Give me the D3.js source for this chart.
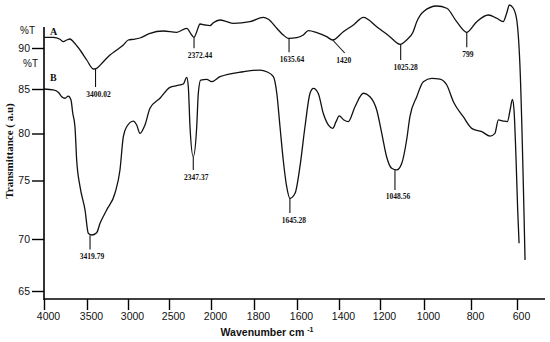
<!DOCTYPE html>
<html><head><meta charset="utf-8">
<script src="https://cdn.jsdelivr.net/npm/d3@7"></script>
<style>body{margin:0;background:#fff}svg{display:block}</style></head>
<body><svg id="c" width="550" height="342"></svg>
<script>
// ---- data ----
const xTicks = [4000,3500,3000,2500,2000,1800,1600,1400,1200,1000,800,600];
const yTicksB = [85,80,75,70,65];
const yTicksA = [90];

// spectrum A : [wavenumber, %T]
const specA = [[3997,92.68],[3892,92.68],[3814,92.18],[3776,91.58],[3736,92.0],[3698,92.25],[3659,91.58],[3581,89.5],[3503,87.0],[3423,84.75],[3382,84.93],[3301,86.58],[3220,88.25],[3138,89.5],[3057,90.75],[2996,92.0],[2935,92.18],[2854,92.5],[2732,93.68],[2570,94.25],[2408,93.93],[2289,94.93],[2230,93.25],[2202,92.68],[2170,94.08],[2131,96.0],[2071,95.75],[2012,95.58],[1989,96.33],[1958,97.0],[1927,96.58],[1896,96.18],[1819,96.58],[1757,97.68],[1733,97.18],[1694,94.93],[1664,93.25],[1640,92.43],[1601,92.58],[1570,93.25],[1546,94.33],[1506,93.83],[1459,92.83],[1430,92.0],[1379,94.08],[1330,95.75],[1281,97.68],[1216,95.33],[1155,92.83],[1109,90.93],[1079,92.0],[1049,94.08],[1033,96.58],[1003,99.08],[946,100.5],[903,99.93],[861,96.58],[818,93.93],[775,96.58],[725,98.25],[688,97.43],[660,96.58],[645,98.68],[633,100.75],[616,99.93],[601,97.0],[587,85.33],[565,37.0]];

// spectrum B : [wavenumber, transmittance]
const specB = [[4000,85.0],[3892,84.89],[3834,84.63],[3794,84.13],[3756,83.96],[3717,84.21],[3686,83.76],[3666,82.30],[3640,80.76],[3620,77.18],[3581,74.47],[3523,72.48],[3484,70.49],[3443,70.34],[3382,70.54],[3341,71.34],[3260,72.48],[3159,73.91],[3098,76.12],[3057,79.66],[3016,80.76],[2935,81.40],[2894,80.96],[2854,80.02],[2793,80.96],[2732,82.83],[2610,83.96],[2488,85.19],[2408,85.38],[2330,85.56],[2289,86.31],[2270,85.26],[2250,80.76],[2211,77.53],[2170,80.76],[2151,84.52],[2123,86.01],[2051,86.09],[1997,85.82],[1958,86.38],[1850,86.94],[1772,87.13],[1741,86.94],[1710,86.38],[1694,84.52],[1679,80.76],[1664,77.18],[1648,74.47],[1633,73.48],[1609,73.91],[1586,76.47],[1562,80.76],[1538,84.52],[1522,85.08],[1499,84.52],[1475,82.27],[1451,80.96],[1430,80.58],[1414,81.33],[1399,81.97],[1376,81.52],[1355,81.33],[1322,83.01],[1281,84.52],[1249,84.13],[1216,82.64],[1192,80.02],[1170,77.53],[1147,76.30],[1124,76.12],[1101,76.83],[1079,79.31],[1064,81.89],[1033,84.13],[1003,85.82],[967,86.20],[932,86.12],[903,85.45],[875,83.57],[833,81.89],[797,80.58],[753,80.20],[717,79.73],[696,80.02],[681,81.52],[660,81.40],[642,81.33],[630,82.64],[620,83.84],[613,82.64],[604,77.18],[597,72.48],[591,69.59]];

// peak annotations: [label, wavenumber position, value]
const peaksA = [["3400.02",3396,84.75],["2372.44",2202,92.68],["1635.64",1637,92.43],["1420",1430,92.0],["1025.28",1106,91.0],["799",818,93.93]];
const peaksB = [["3419.79",3463,70.3],["2347.37",2211,77.5],["1645.28",1633,73.5],["1048.56",1132,76.12]];

// ---- styles / layout ----
// leader: [length px, label dx, lean dx]
const leader = {"3400.02":[18,3,0],"2372.44":[11,6,0],"1635.64":[14,3,0],"1420":[13,-1,12],"1025.28":[16,5,0],"799":[15,1,0],
                "3419.79":[14,2,0],"2347.37":[13,3,0],"1645.28":[15,4,0],"1048.56":[20,3,0]};

const svg = d3.select("#c");
const x = d3.scaleLinear().domain(xTicks).range([44,87,128,169,211,254,297,339,380,424,471,517]);
const yB = d3.scaleLinear().domain(yTicksB).range([89,133.5,180.5,239,291]);
const yA = d3.scaleLinear().domain([90,100]).range([48,8]);
const axisY = 299, axisX = 44;

const sans = "'Liberation Sans', Arial, sans-serif";
const serif = "'Liberation Serif', 'Times New Roman', serif";

// axes lines
svg.append("line").attr("x1",axisX).attr("x2",axisX).attr("y1",27).attr("y2",axisY+1)
  .attr("stroke","#000").attr("stroke-width",1.6);
svg.append("line").attr("x1",axisX).attr("x2",545).attr("y1",axisY).attr("y2",axisY)
  .attr("stroke","#000").attr("stroke-width",1.6);

function styleAxis(g){
  g.select(".domain").remove();
  g.selectAll(".tick line").attr("stroke","#000").attr("stroke-width",1.4);
  g.selectAll(".tick text").attr("font-family",sans).attr("font-size","10.5px").attr("fill","#111");
}
svg.append("g").attr("transform",`translate(0,${axisY})`)
  .call(d3.axisBottom(x).tickValues(xTicks).tickSize(11).tickPadding(3).tickFormat(d3.format("d")))
  .call(styleAxis).call(g=>g.selectAll(".tick text").attr("dx",4));
svg.append("g").attr("transform",`translate(${axisX},0)`)
  .call(d3.axisLeft(yB).tickValues(yTicksB).tickSize(12).tickPadding(2).tickFormat(d3.format("d")))
  .call(styleAxis);
svg.append("g").attr("transform",`translate(${axisX},0)`)
  .call(d3.axisLeft(yA).tickValues(yTicksA).tickSize(12).tickPadding(2).tickFormat(d3.format("d")))
  .call(styleAxis);

// curves
const lineA = d3.line().x(d=>x(d[0])).y(d=>yA(d[1])).curve(d3.curveMonotoneX);
const lineB = d3.line().x(d=>x(d[0])).y(d=>yB(d[1])).curve(d3.curveMonotoneX);
svg.append("path").attr("d",lineA(specA)).attr("fill","none").attr("stroke","#111").attr("stroke-width",1.3);
svg.append("path").attr("d",lineB(specB)).attr("fill","none").attr("stroke","#111").attr("stroke-width",1.3);

// peak labels
function peaks(list, ys){
  list.forEach(([lab,wn,v])=>{
    const [len,dx,lean] = leader[lab];
    const px = x(wn), py = ys(v);
    svg.append("line").attr("x1",px).attr("y1",py).attr("x2",px+lean).attr("y2",py+len)
      .attr("stroke","#111").attr("stroke-width",1.1);
    svg.append("text").attr("x",px+lean+dx).attr("y",py+len+9.5).attr("text-anchor","middle")
      .attr("font-family",serif).attr("font-weight","bold").attr("font-size","7.5px").attr("fill","#111").text(lab);
  });
}
peaks(peaksA, yA);
peaks(peaksB, yB);

// labels
svg.append("text").attr("x",35).attr("y",34).attr("text-anchor","end").attr("font-family",sans)
  .attr("font-size","10px").attr("fill","#111").text("%T");
svg.append("text").attr("x",38).attr("y",67).attr("text-anchor","end").attr("font-family",sans)
  .attr("font-size","10px").attr("fill","#111").text("%T");
svg.append("text").attr("x",50).attr("y",35).attr("font-family",serif).attr("font-weight","bold")
  .attr("font-size","10px").attr("fill","#111").text("A");
svg.append("text").attr("x",50).attr("y",81).attr("font-family",serif).attr("font-weight","bold")
  .attr("font-size","10px").attr("fill","#111").text("B");
svg.append("text").attr("transform","translate(13,151) rotate(-90)").attr("text-anchor","middle")
  .attr("font-family",serif).attr("font-weight","bold").attr("font-size","11px").attr("fill","#111")
  .text("Transmittance ( a.u)");
const xl = svg.append("text").attr("x",267).attr("y",336).attr("text-anchor","middle")
  .attr("font-family",sans).attr("font-weight","bold").attr("font-size","10.5px").attr("fill","#111");
xl.append("tspan").text("Wavenumber cm ");
xl.append("tspan").attr("font-size","7px").attr("dy",-4).text("-1");
</script></body></html>
